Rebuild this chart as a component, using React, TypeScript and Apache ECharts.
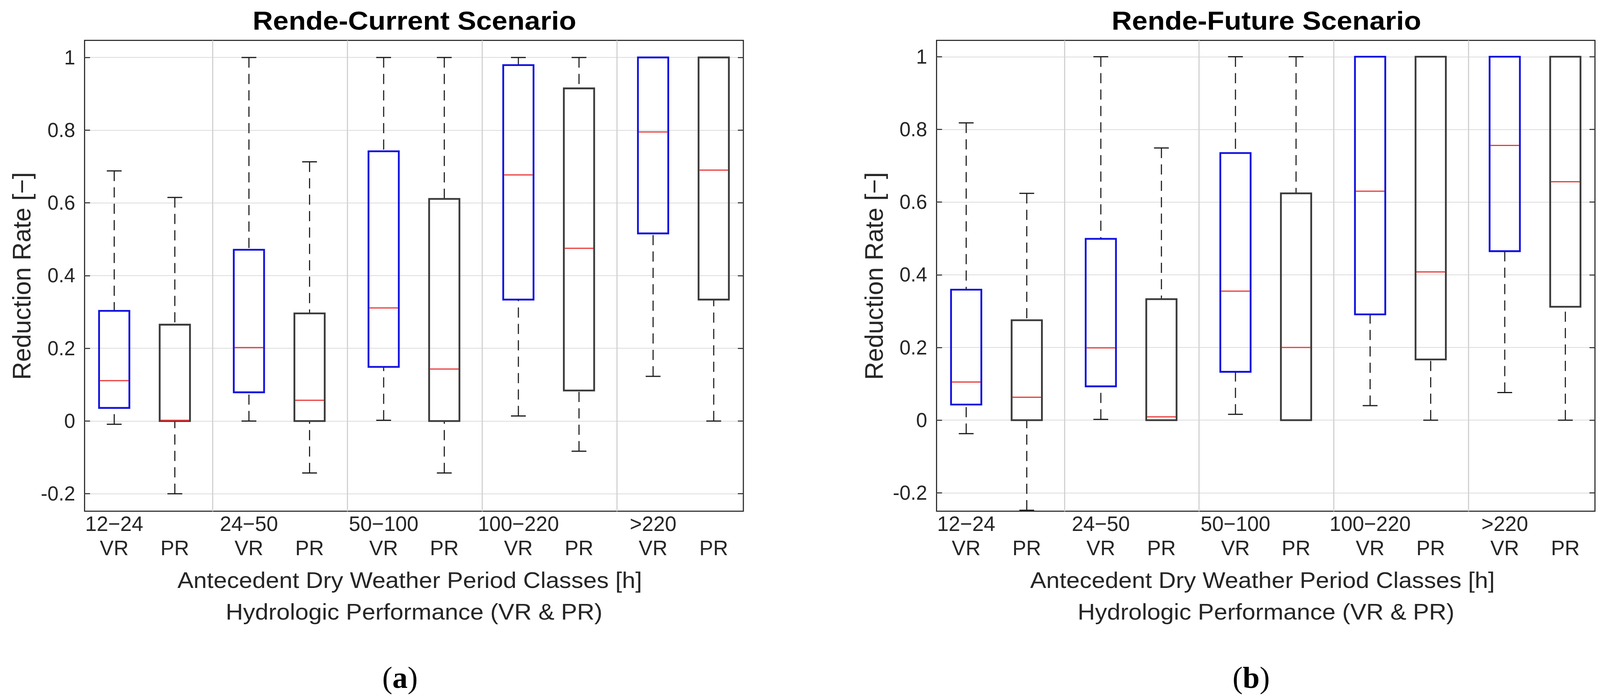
import React, { useEffect, useRef } from "react";
import * as echarts from "echarts";

// ---------- data ----------
const GROUPS = ["12\u221224", "24\u221250", "50\u2212100", "100\u2212220", ">220"];
const METRICS = ["VR", "PR"];
const Y_TICKS = [-0.2, 0, 0.2, 0.4, 0.6, 0.8, 1];
const TITLES = ["Rende-Current Scenario", "Rende-Future Scenario"];
const CAPTIONS = ["a", "b"];
const X_NAME_1 = "Antecedent Dry Weather Period Classes [h]";
const X_NAME_2 = "Hydrologic Performance (VR & PR)";
const Y_NAME = "Reduction Rate [\u2212]";

// [lower whisker, Q1, median, Q3, upper whisker]
const CURRENT_VR = [
  [-0.009, 0.036, 0.111, 0.303, 0.688],
  [0.0, 0.079, 0.202, 0.471, 1.0],
  [0.002, 0.149, 0.311, 0.742, 1.0],
  [0.014, 0.334, 0.677, 0.979, 1.0],
  [0.123, 0.516, 0.795, 1.0, 1.0],
];
const CURRENT_PR = [
  [-0.2, 0.0, 0.002, 0.265, 0.615],
  [-0.143, 0.0, 0.057, 0.296, 0.713],
  [-0.143, 0.0, 0.143, 0.611, 1.0],
  [-0.083, 0.084, 0.475, 0.915, 1.0],
  [0.0, 0.334, 0.69, 1.0, 1.0],
];
const FUTURE_VR = [
  [-0.037, 0.043, 0.105, 0.359, 0.818],
  [0.002, 0.093, 0.199, 0.499, 1.0],
  [0.016, 0.133, 0.355, 0.735, 1.0],
  [0.04, 0.291, 0.63, 1.0, 1.0],
  [0.076, 0.465, 0.756, 1.0, 1.0],
];
const FUTURE_PR = [
  [-0.248, 0.0, 0.063, 0.275, 0.624],
  [0.0, 0.0, 0.009, 0.333, 0.749],
  [0.0, 0.0, 0.2, 0.624, 1.0],
  [0.0, 0.167, 0.408, 1.0, 1.0],
  [0.0, 0.312, 0.656, 1.0, 1.0],
];

// ---------- layout / style ----------
const PR_OFFSET = 0.45;
const X_MIN = 0.78;
const X_MAX = 5.67;
const Y_RANGES = [
  [-0.248, 1.047],
  [-0.2505, 1.045],
];
const BOX_W = 0.225;
const CAP_W = 0.11;
const SANS = "Liberation Sans";
const SERIF = "Liberation Serif";
const BLUE = "#1010e0";
const GRAY = "#3a3a3a";
const RED = "#e83a3a";
const WHISKER = "#1a1a1a";
const AXIS = "#262626";
const GRID_LINE = "#dcdcdc";

const GRID_LEFT = [216.5, 2397.6];
const GRID_WIDTH = [1686.5, 1685.5];
const GRID_TOP = 103.4;
const GRID_HEIGHT = 1206;

const POSITIONS: number[] = [];
const POS_LABELS: string[] = [];
GROUPS.forEach((g, i) => {
  POSITIONS.push(i + 1);
  POS_LABELS.push(g + "\n" + METRICS[0]);
  POSITIONS.push(i + 1 + PR_OFFSET);
  POS_LABELS.push("\n" + METRICS[1]);
});
const SEPARATORS = GROUPS.slice(1).map((_, i) => i + 1 + PR_OFFSET + (1 - PR_OFFSET) / 2);

function buildData(vr: number[][], pr: number[][]) {
  const out: number[][] = [];
  GROUPS.forEach((_, i) => {
    out.push([i + 1, ...vr[i], 0]);
    out.push([i + 1 + PR_OFFSET, ...pr[i], 1]);
  });
  return out;
}

const renderBox = (params: any, api: any) => {
  const x = api.value(0);
  const kind = api.value(6);
  const pLo = api.coord([x, api.value(1)]);
  const pQ1 = api.coord([x, api.value(2)]);
  const pMed = api.coord([x, api.value(3)]);
  const pQ3 = api.coord([x, api.value(4)]);
  const pHi = api.coord([x, api.value(5)]);
  const bw = api.size([BOX_W, 0])[0];
  const cw = api.size([CAP_W, 0])[0];
  const cx = pQ1[0];
  const color = kind === 0 ? BLUE : GRAY;
  const dashed = { stroke: WHISKER, lineWidth: 2.8, lineDash: [26, 16], fill: null };
  const capStyle = { stroke: WHISKER, lineWidth: 3, fill: null };
  return {
    type: "group",
    children: [
      { type: "line", shape: { x1: cx, y1: pHi[1], x2: cx, y2: pQ3[1] }, style: dashed },
      { type: "line", shape: { x1: cx, y1: pLo[1], x2: cx, y2: pQ1[1] }, style: dashed },
      { type: "line", shape: { x1: cx - cw / 2, y1: pHi[1], x2: cx + cw / 2, y2: pHi[1] }, style: capStyle },
      { type: "line", shape: { x1: cx - cw / 2, y1: pLo[1], x2: cx + cw / 2, y2: pLo[1] }, style: capStyle },
      {
        type: "rect",
        shape: { x: cx - bw / 2, y: pQ3[1], width: bw, height: pQ1[1] - pQ3[1] },
        style: { fill: null, stroke: color, lineWidth: 4.6 },
      },
      {
        type: "line",
        shape: { x1: cx - bw / 2 + 2, y1: pMed[1], x2: cx + bw / 2 - 2, y2: pMed[1] },
        style: { stroke: RED, lineWidth: 3, fill: null },
      },
    ],
  };
};

export default function App() {
  const ref = useRef<HTMLDivElement>(null);
  useEffect(() => {
    if (!ref.current) return;
    const chart = echarts.init(ref.current, undefined, { renderer: "svg" });
    const datasets = [buildData(CURRENT_VR, CURRENT_PR), buildData(FUTURE_VR, FUTURE_PR)];

    const grids = [0, 1].map((i) => ({
      left: GRID_LEFT[i],
      top: GRID_TOP,
      width: GRID_WIDTH[i],
      height: GRID_HEIGHT,
      show: true,
      borderColor: AXIS,
      borderWidth: 2.8,
      backgroundColor: "transparent",
    }));

    const xAxes = [0, 1].map((i) => ({
      type: "value",
      gridIndex: i,
      min: X_MIN,
      max: X_MAX,
      axisLine: { show: false },
      axisTick: { show: false },
      splitLine: { show: false },
      axisLabel: {
        customValues: POSITIONS,
        formatter: (v: number) => {
          const idx = POSITIONS.findIndex((p) => Math.abs(p - v) < 1e-6);
          return idx >= 0 ? POS_LABELS[idx] : "";
        },
        fontSize: 53,
        lineHeight: 62,
        margin: 1,
        color: AXIS,
        fontFamily: SANS,
      },
    }));

    const yAxes: any[] = [];
    [0, 1].forEach((i) => {
      yAxes.push({
        type: "value",
        gridIndex: i,
        position: "left",
        min: Y_RANGES[i][0],
        max: Y_RANGES[i][1],
        axisLine: { show: false },
        axisTick: {
          show: true,
          inside: true,
          length: 14,
          customValues: Y_TICKS,
          lineStyle: { color: AXIS, width: 2.5 },
        },
        axisLabel: {
          customValues: Y_TICKS,
          formatter: (v: number) => String(Math.round(v * 10) / 10),
          fontSize: 51,
          color: AXIS,
          margin: 24,
          fontFamily: SANS,
        },
        splitLine: { show: true, lineStyle: { color: GRID_LINE, width: 2 } },
      });
      yAxes.push({
        type: "value",
        gridIndex: i,
        position: "right",
        min: Y_RANGES[i][0],
        max: Y_RANGES[i][1],
        axisLine: { show: false },
        axisTick: {
          show: true,
          inside: true,
          length: 14,
          customValues: Y_TICKS,
          lineStyle: { color: AXIS, width: 2.5 },
        },
        axisLabel: { show: false },
        splitLine: { show: false },
      });
    });

    const series: any[] = [];
    [0, 1].forEach((i) => {
      series.push({
        type: "line",
        xAxisIndex: i,
        yAxisIndex: i * 2,
        data: [],
        z: 1,
        silent: true,
        markLine: {
          silent: true,
          symbol: "none",
          label: { show: false },
          lineStyle: { color: "#d2d2d2", width: 3, type: "solid" },
          data: SEPARATORS.map((s) => ({ xAxis: s })),
        },
      });
      series.push({
        type: "custom",
        xAxisIndex: i,
        yAxisIndex: i * 2,
        z: 3,
        data: datasets[i],
        encode: { x: 0, y: [1, 2, 3, 4, 5] },
        renderItem: renderBox,
        silent: true,
      });
    });

    const titleX = [1061, 3242];
    const yNameX = [56, 2238];
    const xName1X = [1049, 3232];
    const xName2X = [1060, 3241];
    const captionX = [1024, 3203];
    const graphic: any[] = [];
    [0, 1].forEach((i) => {
      graphic.push({
        type: "text",
        x: titleX[i],
        y: 53,
        scaleX: 1.075,
        style: {
          text: TITLES[i],
          fontSize: 67,
          fontWeight: "bold",
          fontFamily: SANS,
          fill: "#000",
          align: "center",
          verticalAlign: "middle",
        },
      });
      graphic.push({
        type: "text",
        x: yNameX[i],
        y: 707,
        rotation: Math.PI / 2,
        style: {
          text: Y_NAME,
          fontSize: 64,
          fontFamily: SANS,
          fill: AXIS,
          align: "center",
          verticalAlign: "middle",
        },
      });
      graphic.push({
        type: "text",
        x: xName1X[i],
        y: 1486,
        scaleX: 1.08,
        style: {
          text: X_NAME_1,
          fontSize: 57,
          fontFamily: SANS,
          fill: AXIS,
          align: "center",
          verticalAlign: "middle",
        },
      });
      graphic.push({
        type: "text",
        x: xName2X[i],
        y: 1567,
        scaleX: 1.08,
        style: {
          text: X_NAME_2,
          fontSize: 57,
          fontFamily: SANS,
          fill: AXIS,
          align: "center",
          verticalAlign: "middle",
        },
      });
      graphic.push({
        type: "text",
        x: captionX[i],
        y: 1735,
        style: {
          text: "{p|(}{b|" + CAPTIONS[i] + "}{p|)}",
          align: "center",
          verticalAlign: "middle",
          rich: {
            p: { fontSize: 78, fontFamily: SERIF, fill: "#000" },
            b: { fontSize: 78, fontFamily: SERIF, fontWeight: "bold", fill: "#000" },
          },
        },
      });
    });

    chart.setOption({
      animation: false,
      backgroundColor: "#ffffff",
      grid: grids,
      xAxis: xAxes,
      yAxis: yAxes,
      series,
      graphic,
    });
    return () => chart.dispose();
  }, []);

  return (
    <div
      ref={ref}
      style={{ position: "absolute", left: 0, top: 0, width: 4117, height: 1793, background: "#fff" }}
    />
  );
}
